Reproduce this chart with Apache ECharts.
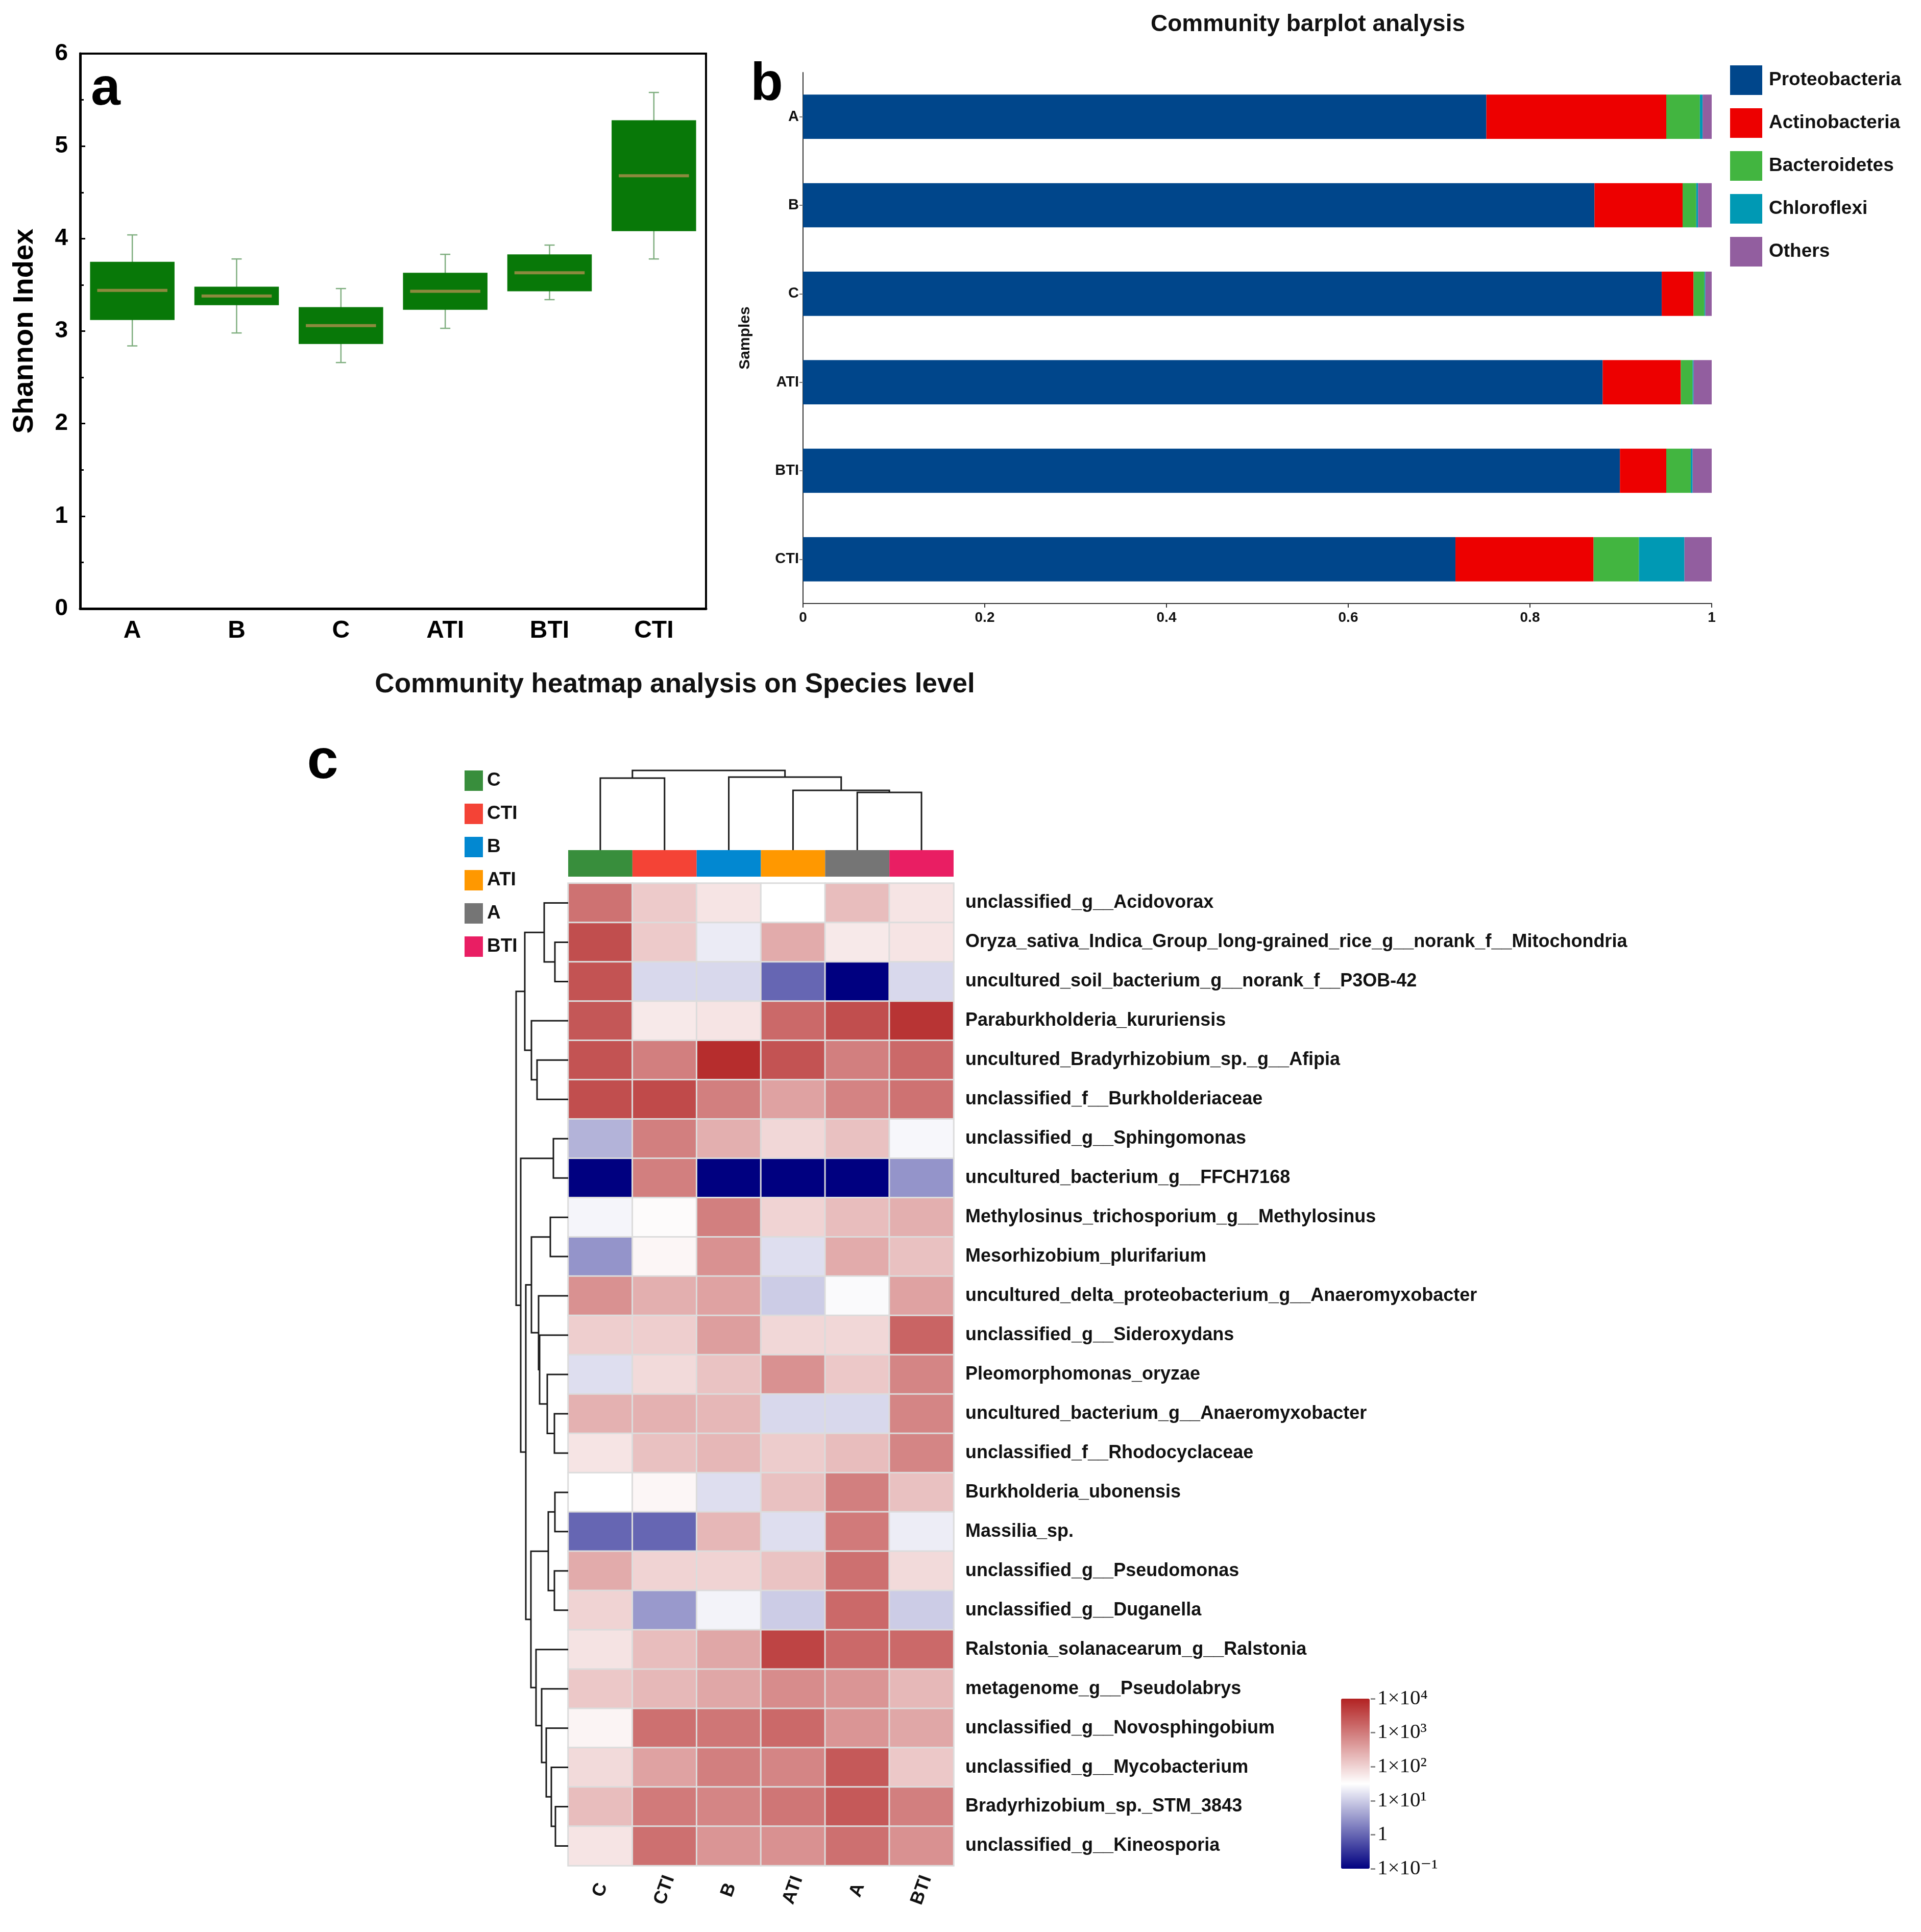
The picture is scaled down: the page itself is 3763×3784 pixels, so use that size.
<!DOCTYPE html>
<html><head><meta charset="utf-8">
<script src="https://cdn.jsdelivr.net/npm/echarts@6/dist/echarts.min.js"></script>
<style>html,body{margin:0;padding:0;background:#fff}#c{width:3763px;height:3784px}</style>
</head><body><div id="c"></div>
<script>
// ---------- Panel a : Shannon index boxplot ----------
const shannonGroups = ['A','B','C','ATI','BTI','CTI'];
const shannonWhiskerLow  = [2.84, 2.98, 2.66, 3.03, 3.34, 3.78];
const shannonQ1          = [3.12, 3.28, 2.86, 3.23, 3.43, 4.08];
const shannonMedian      = [3.44, 3.38, 3.06, 3.43, 3.63, 4.68];
const shannonQ3          = [3.75, 3.48, 3.26, 3.63, 3.83, 5.28];
const shannonWhiskerHigh = [4.04, 3.78, 3.46, 3.83, 3.93, 5.58];

// ---------- Panel b : community barplot ----------
const sampleNames = ['A','B','C','ATI','BTI','CTI'];
const phylumNames = ['Proteobacteria','Actinobacteria','Bacteroidetes','Chloroflexi','Others'];
const proteobacteria = [0.752, 0.871, 0.945, 0.880, 0.899, 0.718];
const actinobacteria = [0.198, 0.097, 0.035, 0.086, 0.051, 0.152];
const bacteroidetes  = [0.037, 0.015, 0.012, 0.013, 0.027, 0.050];
const chloroflexi    = [0.003, 0.002, 0.001, 0.001, 0.002, 0.050];
const others         = [0.010, 0.015, 0.007, 0.020, 0.021, 0.030];
const phylumColors = ['#00468B','#ED0000','#42B540','#0099B4','#925E9F'];

// ---------- Panel c : species heatmap ----------
const heatColumns = ['C','CTI','B','ATI','A','BTI'];
const groupColors = ['#388E3C','#F44336','#0288D1','#FF9800','#757575','#E91E63'];
const speciesNames = [
  'unclassified_g__Acidovorax',
  'Oryza_sativa_Indica_Group_long-grained_rice_g__norank_f__Mitochondria',
  'uncultured_soil_bacterium_g__norank_f__P3OB-42',
  'Paraburkholderia_kururiensis',
  'uncultured_Bradyrhizobium_sp._g__Afipia',
  'unclassified_f__Burkholderiaceae',
  'unclassified_g__Sphingomonas',
  'uncultured_bacterium_g__FFCH7168',
  'Methylosinus_trichosporium_g__Methylosinus',
  'Mesorhizobium_plurifarium',
  'uncultured_delta_proteobacterium_g__Anaeromyxobacter',
  'unclassified_g__Sideroxydans',
  'Pleomorphomonas_oryzae',
  'uncultured_bacterium_g__Anaeromyxobacter',
  'unclassified_f__Rhodocyclaceae',
  'Burkholderia_ubonensis',
  'Massilia_sp.',
  'unclassified_g__Pseudomonas',
  'unclassified_g__Duganella',
  'Ralstonia_solanacearum_g__Ralstonia',
  'metagenome_g__Pseudolabrys',
  'unclassified_g__Novosphingobium',
  'unclassified_g__Mycobacterium',
  'Bradyrhizobium_sp._STM_3843',
  'unclassified_g__Kineosporia'
];
// log10 abundance, columns in heatColumns order
const heatLog10 = [
  [3.10, 2.10, 1.80, 1.50, 2.25, 1.80],
  [3.50, 2.10, 1.30, 2.45, 1.75, 1.80],
  [3.45, 1.12, 1.12, 0.00, -1.0, 1.12],
  [3.40, 1.75, 1.80, 3.20, 3.50, 3.80],
  [3.45, 2.95, 3.88, 3.45, 2.95, 3.20],
  [3.50, 3.55, 2.95, 2.55, 2.90, 3.10],
  [0.75, 2.95, 2.40, 1.95, 2.20, 1.42],
  [-1.0, 2.95, -1.0, -1.0, -1.0, 0.45],
  [1.40, 1.55, 2.95, 2.00, 2.25, 2.40],
  [0.45, 1.60, 2.75, 1.18, 2.45, 2.20],
  [2.75, 2.40, 2.55, 1.00, 1.45, 2.55],
  [2.05, 2.05, 2.60, 1.95, 1.95, 3.25],
  [1.18, 1.92, 2.18, 2.75, 2.12, 2.88],
  [2.38, 2.38, 2.32, 1.12, 1.12, 2.88],
  [1.80, 2.20, 2.32, 2.08, 2.25, 2.88],
  [1.50, 1.60, 1.18, 2.20, 2.95, 2.20],
  [0.00, 0.00, 2.32, 1.18, 3.00, 1.32],
  [2.45, 2.00, 2.00, 2.18, 3.12, 1.92],
  [2.00, 0.50, 1.38, 1.00, 3.20, 1.00],
  [1.82, 2.25, 2.50, 3.62, 3.20, 3.20],
  [2.12, 2.30, 2.50, 2.80, 2.70, 2.30],
  [1.62, 3.12, 3.05, 3.20, 2.70, 2.50],
  [1.92, 2.55, 2.95, 2.88, 3.38, 2.12],
  [2.25, 3.00, 2.88, 3.05, 3.38, 2.95],
  [1.80, 3.12, 2.70, 2.75, 3.12, 2.75]
];
// hclust-style merges: negative = leaf (1-based), positive = earlier merge
const rowMerges = [
  [-2,-3,26],[-1,1,47],[-5,-6,61],[-4,3,72],[2,4,85],[-7,-8,29],
  [-9,-10,35],[-14,-15,27],[-13,8,41],[-12,9,56],[-11,10,58],[7,11,72],
  [-16,-17,26],[-18,-19,27],[13,14,39],[-24,-25,25],[-23,16,33],[-22,17,43],
  [-21,18,52],[-20,19,63],[15,20,73],[12,21,83],[6,22,93],[5,23,102]
];
const colMerges = [[-5,-6,113],[-4,1,117],[-1,-2,141],[-3,2,143],[3,4,156]];
const colorbarTicks = [-1,0,1,2,3,4];
const colorbarLabels = ['1×10⁻¹','1','1×10¹','1×10²','1×10³','1×10⁴'];

// ---------- helpers ----------
const FONT = "'Liberation Sans', Arial, Helvetica, sans-serif";
function dendroSegments(merges){
  const pos=[], hgt=[], out=[];
  const ref = k => k<0 ? [-k-1, 0] : [pos[k-1], hgt[k-1]];
  merges.forEach(([a,b,h])=>{
    const A=ref(a), B=ref(b);
    pos.push((A[0]+B[0])/2); hgt.push(h);
    out.push([A[0],A[1],B[0],B[1],h]);
  });
  return out;
}
function dendroRender(rowWise){
  return function(params, api){
    const pa=api.value(0), ha=api.value(1), pb=api.value(2), hb=api.value(3), hm=api.value(4);
    const pt = rowWise ? (p,h)=>api.coord([h,p]) : (p,h)=>api.coord([p,h]);
    return {type:'polyline', shape:{points:[pt(pa,ha),pt(pa,hm),pt(pb,hm),pt(pb,hb)]},
      style:{fill:null, stroke:'#1a1a1a', lineWidth:3}};
  };
}

const boxData = shannonGroups.map((g,i)=>[i, shannonWhiskerLow[i], shannonQ1[i], shannonMedian[i], shannonQ3[i], shannonWhiskerHigh[i]]);
const heatData = [];
heatLog10.forEach((row,r)=>row.forEach((v,c)=>heatData.push([c,r,v])));
const phylumSeriesData = [proteobacteria, actinobacteria, bacteroidetes, chloroflexi, others];

const chart = echarts.init(document.getElementById('c'), null, {renderer:'canvas'});

const hidden = {show:false};
const option = {
  animation:false,
  backgroundColor:'#ffffff',
  textStyle:{fontFamily:FONT},
  grid:[
    {left:157, top:105, width:1226, height:1087, show:true, borderColor:'#000', borderWidth:4, backgroundColor:'transparent'},
    {left:1573, top:142, width:1780, height:1040},
    {left:1113, top:1730, width:755, height:1924},
    {left:1113, top:1665, width:755, height:52},
    {left:1113, top:1509, width:755, height:156},
    {left:1011, top:1730, width:102, height:1924},
    {left:2685, top:3327, width:1, height:333}
  ],
  xAxis:[
    {gridIndex:0, type:'category', data:shannonGroups,
     axisLine:{lineStyle:{color:'#000', width:5}},
     axisTick:{inside:true, length:20, alignWithLabel:true, lineStyle:{color:'#000', width:3}},
     axisLabel:{color:'#000', fontWeight:'bold', fontSize:48, margin:20, fontFamily:FONT},
     splitLine:hidden},
    {gridIndex:1, type:'value', min:0, max:1, interval:0.2,
     axisLine:{show:true, lineStyle:{color:'#333', width:2}},
     axisTick:{show:true, length:8, lineStyle:{color:'#333', width:2}},
     axisLabel:{color:'#111', fontWeight:'bold', fontSize:28, margin:14, fontFamily:FONT},
     splitLine:hidden},
    {gridIndex:2, type:'category', data:heatColumns,
     axisLine:hidden, axisTick:hidden,
     axisLabel:{interval:0, rotate:70, color:'#111', fontWeight:'bold', fontSize:36, margin:48, align:'center', verticalAlign:'middle', fontFamily:FONT},
     splitLine:hidden},
    {gridIndex:3, type:'category', data:heatColumns, show:false},
    {gridIndex:4, type:'value', min:-0.5, max:5.5, show:false},
    {gridIndex:5, type:'value', min:0, max:102, inverse:true, show:false},
    {gridIndex:6, type:'value', min:0, max:1, show:false}
  ],
  yAxis:[
    {gridIndex:0, type:'value', min:0, max:6, interval:1,
     axisLine:{show:true, lineStyle:{color:'#000', width:5}},
     axisTick:{show:true, inside:true, length:10, lineStyle:{color:'#000', width:3}},
     minorTick:{show:true, splitNumber:2, length:7, lineStyle:{color:'#000', width:3}},
     axisLabel:{color:'#000', fontWeight:'bold', fontSize:46, margin:24, fontFamily:FONT},
     splitLine:hidden,
     name:'Shannon Index', nameLocation:'middle', nameGap:80,
     nameTextStyle:{color:'#000', fontWeight:'bold', fontSize:56, fontFamily:FONT}},
    {gridIndex:1, type:'category', data:sampleNames, inverse:true,
     axisLine:{show:true, lineStyle:{color:'#333', width:2}},
     axisTick:{show:true, length:7, alignWithLabel:true, lineStyle:{color:'#777', width:2}},
     axisLabel:{color:'#111', fontWeight:'bold', fontSize:29, margin:8, fontFamily:FONT},
     splitLine:hidden,
     name:'Samples', nameLocation:'middle', nameGap:98,
     nameTextStyle:{color:'#111', fontWeight:'bold', fontSize:30, fontFamily:FONT}},
    {gridIndex:2, type:'category', data:speciesNames, inverse:true, position:'right',
     axisLine:hidden, axisTick:hidden,
     axisLabel:{interval:0, color:'#111', fontWeight:'bold', fontSize:36, margin:23, fontFamily:FONT},
     splitLine:hidden},
    {gridIndex:3, type:'value', min:0, max:1, show:false},
    {gridIndex:4, type:'value', min:0, max:156, show:false},
    {gridIndex:5, type:'value', min:-0.5, max:24.5, inverse:true, show:false},
    {gridIndex:6, type:'value', min:-1, max:4, interval:1, position:'right',
     axisLine:hidden,
     axisTick:{show:true, length:9, lineStyle:{color:'#888', width:3}},
     axisLabel:{color:'#111', fontSize:41, margin:12, fontFamily:"'Liberation Serif','DejaVu Serif',serif",
       formatter:v=>colorbarLabels[colorbarTicks.indexOf(v)]},
     splitLine:hidden}
  ],
  legend:[
    {data:phylumNames, orient:'vertical', left:3389, top:128, itemWidth:63, itemHeight:58, itemGap:26,
     icon:'rect', selectedMode:false, padding:0,
     textStyle:{color:'#111', fontWeight:'bold', fontSize:37, fontFamily:FONT, padding:[0,0,0,8]}},
    {data:heatColumns, orient:'vertical', left:910, top:1509, itemWidth:36, itemHeight:40, itemGap:25,
     icon:'rect', selectedMode:false, padding:0,
     textStyle:{color:'#111', fontWeight:'bold', fontSize:37, fontFamily:FONT, padding:[0,0,0,3]}}
  ],
  visualMap:[{
    type:'continuous', seriesIndex:6, min:-1, max:4, calculable:false, orient:'vertical',
    left:2627, top:3327, itemWidth:56, itemHeight:333, padding:0, text:null, hoverLink:false,
    inRange:{color:['#000080','#ffffff','#b22222']}
  }],
  graphic:[
    {type:'text', x:207, y:176, style:{text:'a', fontSize:104, fontWeight:900, fontFamily:FONT, fill:'#000', align:'center', verticalAlign:'middle'}},
    {type:'text', x:1502, y:166, style:{text:'b', fontSize:104, fontWeight:900, fontFamily:FONT, fill:'#000', align:'center', verticalAlign:'middle'}},
    {type:'text', x:632, y:1494, style:{text:'c', fontSize:110, fontWeight:900, fontFamily:FONT, fill:'#000', align:'center', verticalAlign:'middle'}},
    {type:'text', x:2562, y:48, style:{text:'Community barplot analysis', fontSize:46, fontWeight:'bold', fontFamily:FONT, fill:'#111', align:'center', verticalAlign:'middle'}},
    {type:'text', x:1322, y:1341, style:{text:'Community heatmap analysis on Species level', fontSize:53, fontWeight:'bold', fontFamily:FONT, fill:'#111', align:'center', verticalAlign:'middle'}}
  ],
  series:[
    {type:'custom', xAxisIndex:0, yAxisIndex:0, data:boxData, encode:{x:0, y:[1,2,3,4,5]},
     renderItem:function(params, api){
       const i=api.value(0);
       const lo=api.coord([i,api.value(1)]), q1=api.coord([i,api.value(2)]), md=api.coord([i,api.value(3)]),
             q3=api.coord([i,api.value(4)]), hi=api.coord([i,api.value(5)]);
       const bw=api.size([1,0])[0]*0.81, x=lo[0], cap=20;
       const wStyle={stroke:'#7fae7f', lineWidth:2.5};
       return {type:'group', children:[
         {type:'line', shape:{x1:x,y1:hi[1],x2:x,y2:lo[1]}, style:wStyle},
         {type:'line', shape:{x1:x-cap/2,y1:hi[1],x2:x+cap/2,y2:hi[1]}, style:wStyle},
         {type:'line', shape:{x1:x-cap/2,y1:lo[1],x2:x+cap/2,y2:lo[1]}, style:wStyle},
         {type:'rect', shape:{x:x-bw/2, y:q3[1], width:bw, height:q1[1]-q3[1]}, style:{fill:'#087808'}},
         {type:'line', shape:{x1:x-bw/2+14,y1:md[1],x2:x+bw/2-14,y2:md[1]}, style:{stroke:'#8c8a3e', lineWidth:6}}
       ]};
     }},
    ...phylumNames.map((n,k)=>({name:n, type:'bar', xAxisIndex:1, yAxisIndex:1, stack:'total', barWidth:'50%',
      data:phylumSeriesData[k], itemStyle:{color:phylumColors[k]}})),
    {type:'heatmap', xAxisIndex:2, yAxisIndex:2, data:heatData,
     itemStyle:{borderColor:'#dcdcdc', borderWidth:3}, emphasis:{disabled:true}},
    ...heatColumns.map((g,k)=>({name:g, type:'bar', xAxisIndex:3, yAxisIndex:3, barWidth:'100%', barGap:'-100%',
      data:heatColumns.map(c=>c===g?1:'-'), itemStyle:{color:groupColors[k]}})),
    {type:'custom', xAxisIndex:4, yAxisIndex:4, data:dendroSegments(colMerges), renderItem:dendroRender(false), clip:false},
    {type:'custom', xAxisIndex:5, yAxisIndex:5, data:dendroSegments(rowMerges), renderItem:dendroRender(true), clip:false},
    {type:'scatter', xAxisIndex:6, yAxisIndex:6, data:[], silent:true}
  ]
};
chart.setOption(option);
</script></body></html>
